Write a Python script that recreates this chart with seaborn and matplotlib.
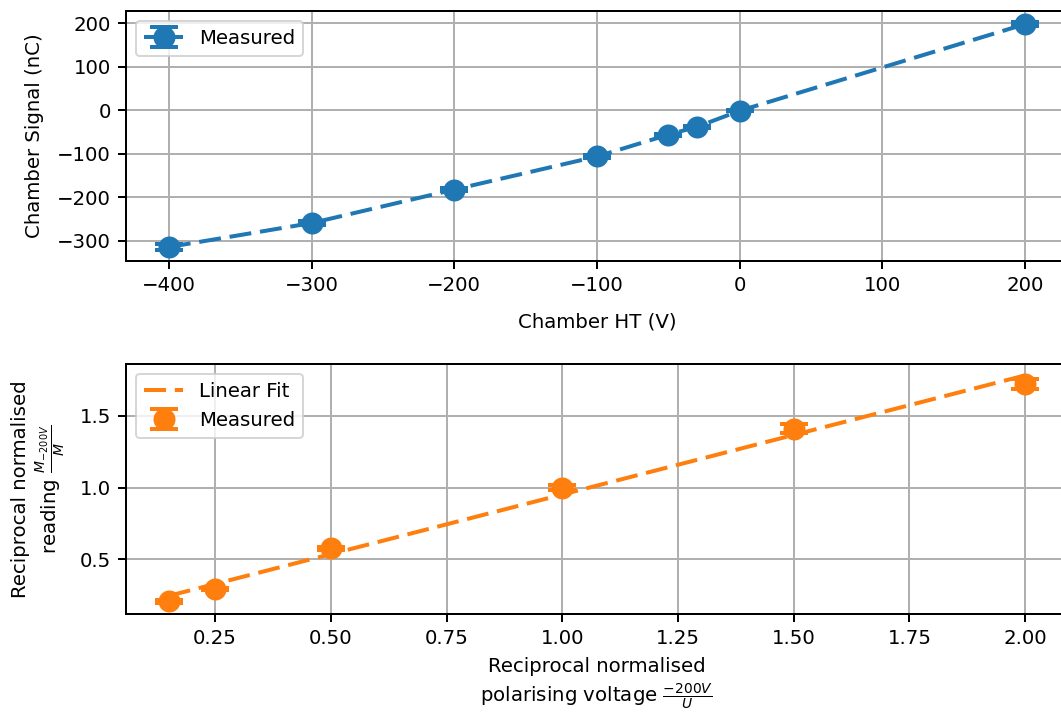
import numpy as np
import matplotlib
matplotlib.use("Agg")
import matplotlib.pyplot as plt
import seaborn as sns

# ---- data ----
ht_volts = [-400, -300, -200, -100, -50, -30, 0, 200]
chamber_signal = [-314, -259, -182, -106, -56, -38, -1, 198]
chamber_err = [6, 5, 4, 3, 2, 2, 1, 4]

recip_voltage = [0.15, 0.25, 0.5, 1.0, 1.5, 2.0]
recip_reading = [0.21, 0.295, 0.577, 1.0, 1.41, 1.72]
recip_err = [0.01, 0.01, 0.012, 0.02, 0.03, 0.035]

sns.set_style("ticks")
plt.rcParams['font.family'] = ['DejaVu Sans']
FS = 9.9
plt.rcParams.update({
    'font.size': FS, 'axes.labelsize': FS, 'xtick.labelsize': FS,
    'ytick.labelsize': FS, 'legend.fontsize': FS,
    'text.color': 'black', 'axes.labelcolor': 'black',
    'xtick.color': 'black', 'ytick.color': 'black',
})

DPI = 144
fig = plt.figure(figsize=(1061 / DPI, 713 / DPI), dpi=DPI)
W, H = 1061, 713
ax1 = fig.add_axes([126 / W, 1 - 261 / H, (1068 - 126) / W, (261 - 11) / H])
ax2 = fig.add_axes([126 / W, 1 - 614 / H, (1068 - 126) / W, (614 - 364) / H])

blue = "#1f77b4"
orange = "#ff7f0e"
DASH = (5.5, 2.2)

for ax in (ax1, ax2):
    ax.grid(True, color="#b0b0b0", linewidth=1.0)
    ax.set_axisbelow(True)
    for s in ax.spines.values():
        s.set_color("black")
        s.set_linewidth(1.0)
    ax.tick_params(axis="both", which="both", direction="out", length=4, width=1,
                   colors="black")

ax1.errorbar(ht_volts, chamber_signal, yerr=chamber_err, fmt="o", linestyle="--",
             dashes=DASH, color=blue,
             markersize=10, linewidth=2, capsize=7, elinewidth=2, capthick=2,
             label="Measured")
ax1.set_xlabel("Chamber HT (V)", labelpad=8.5)
ax1.set_ylabel("Chamber Signal (nC)", labelpad=6.5)
ax1.set_xticks([-400, -300, -200, -100, 0, 100, 200])
ax1.set_yticks([-300, -200, -100, 0, 100, 200])
ax1.legend(loc="upper left")

slope, intercept = np.polyfit(recip_voltage, recip_reading, 1)
xs = np.array(recip_voltage)
sns.lineplot(x=xs, y=slope * xs + intercept, ax=ax2, color=orange,
             dashes=False, linewidth=2, label="Linear Fit")
ax2.lines[-1].set_dashes(DASH)
ax2.errorbar(recip_voltage, recip_reading, yerr=recip_err, fmt="o", color=orange,
             markersize=10, capsize=7, elinewidth=2, capthick=2, label="Measured")
ax2.set_xlabel("Reciprocal normalised\npolarising voltage $\\frac{-200V}{U}$",
               labelpad=4.5, linespacing=1.3)
ax2.set_ylabel("Reciprocal normalised\nreading $\\frac{M_{-200V}}{M}$", labelpad=6.5)
ax2.set_xticks([0.25, 0.5, 0.75, 1.0, 1.25, 1.5, 1.75, 2.0])
ax2.set_yticks([0.5, 1.0, 1.5])
ax2.legend(loc="upper left")

fig.savefig("out.png", dpi=DPI)
